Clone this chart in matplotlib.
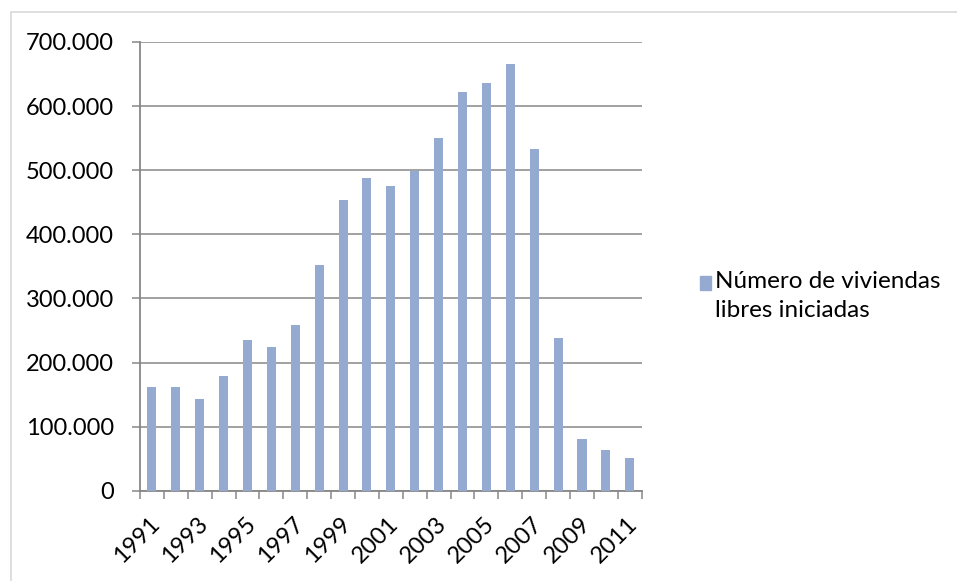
import matplotlib
matplotlib.use("Agg")
import matplotlib.pyplot as plt
from matplotlib.patches import Rectangle
from matplotlib.ticker import FuncFormatter, MultipleLocator

plt.rcParams['font.family'] = ['Lato', 'DejaVu Sans']

years = list(range(1991, 2012))
viviendas = [161000, 161000, 143000, 179000, 234500, 224000, 258000, 351500,
             453000, 488000, 475000, 499000, 551000, 622000, 636000, 665500,
             532500, 237500, 80000, 63000, 51500]
label_years = [str(y) for y in years[::2]]
series_label = "Número de viviendas\nlibres iniciadas"

bar_color = '#95AAD1'
grid_color = '#878787'
W, H = 957, 581

fig = plt.figure(figsize=(W / 100, H / 100), dpi=100)
ax = fig.add_axes([140 / W, 1 - 490.7 / H, (641.7 - 140) / W, (490.7 - 42) / H])

x = list(range(len(years)))
ax.bar(x, viviendas, width=0.38, color=bar_color, zorder=3)

ax.set_xlim(-0.5, len(years) - 0.5)
ax.set_ylim(0, 700000)
ax.yaxis.set_major_locator(MultipleLocator(100000))
ax.yaxis.set_major_formatter(FuncFormatter(lambda v, p: f"{int(v):,}".replace(",", ".")))
ax.grid(axis='y', color=grid_color, linewidth=1.1, zorder=0)

# category boundary ticks on the x axis, labels every other year
ax.set_xticks([i - 0.5 for i in range(len(years) + 1)])
ax.set_xticklabels([])
for i, y in enumerate(years):
    if str(y) in label_years:
        ax.annotate(str(y), xy=(i, 0), xycoords=('data', 'axes fraction'),
                    xytext=(-2.0, -16.0), textcoords='offset points',
                    rotation=45, rotation_mode='anchor', ha='right', va='top',
                    fontsize=17, color='black')

ax.tick_params(axis='x', length=5.8, width=1.1, color=grid_color, direction='out')
ax.tick_params(axis='y', length=5.8, width=1.1, color=grid_color, direction='out',
               pad=13, labelsize=17, labelcolor='black')

for side in ('top', 'right'):
    ax.spines[side].set_visible(False)
for side in ('left', 'bottom'):
    ax.spines[side].set_color(grid_color)
    ax.spines[side].set_linewidth(1.3)

# legend: swatch aligned with the first line of text
fig.patches.append(Rectangle((700 / W, 1 - 290 / H), 11 / W, 14 / H,
                             transform=fig.transFigure, color=bar_color))
fig.text(715 / W, 1 - 271 / H, series_label, fontsize=17.5, ha='left', va='top',
         linespacing=1.45, color='black')

# chart area outline
fig.patches.append(Rectangle((10.5 / W, -0.05), 1.2, 1 - 12.5 / H + 0.05,
                             transform=fig.transFigure, fill=False,
                             edgecolor='#D9D9D9', linewidth=1.2))

fig.savefig("out.png", dpi=100, facecolor='white')
